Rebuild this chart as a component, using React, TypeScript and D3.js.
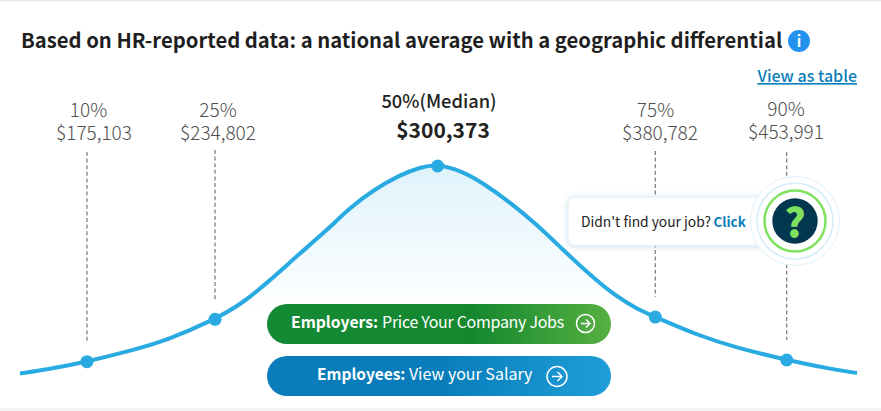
import React from "react";
import * as d3 from "d3";

// percentile labels and salaries
const percentiles = ["10%", "25%", "50%(Median)", "75%", "90%"];
const salaries = ["$175,103", "$234,802", "$300,373", "$380,782", "$453,991"];
// where each percentile sits on the curve (axis position, curve height)
const markerPos = [8, 23.3, 49.9, 75.9, 91.6];
const markerHeight = [5.7, 26.1, 100, 27.2, 6.5];

// bell curve outline
const curvePos = [0, 3.6, 8, 13.5, 17.6, 23.3, 26.6, 29.5, 33.5, 36.7, 39.4, 42.2, 45.4, 47.8, 49.9, 52.9, 55.3, 58.5, 61.8, 64.9, 68.1, 71.3, 73.7, 75.9, 80.9, 85.7, 91.6, 96.8, 100];
const curveHeight = [0, 2.2, 5.7, 11.3, 16.1, 26.1, 33.9, 43.6, 58.1, 69.2, 79.8, 88.4, 95.7, 99.4, 101, 97.4, 91.8, 82.7, 71.6, 59.5, 47.5, 36.9, 31.2, 27.2, 18.5, 12.3, 6.5, 2.2, 0.2];

const width = 881;
const height = 411;
const font = "'Noto Sans CJK SC', 'Noto Sans', sans-serif";

const x = d3.scaleLinear().domain([0, 100]).range([20, 857]);
const y = d3.scaleLinear().domain([0, 100]).range([373.5, 166]);

const curvePoints = curvePos.map((p, i) => [p, curveHeight[i]] as [number, number]);

const line = d3
  .line<[number, number]>()
  .x((d) => x(d[0]))
  .y((d) => y(d[1]))
  .curve(d3.curveBasis);

const area = d3
  .area<[number, number]>()
  .x((d) => x(d[0]))
  .y0(y(0))
  .y1((d) => y(d[1]))
  .curve(d3.curveBasis);

// label placement per percentile
const labelX = [88.5, 218, 439, 655.5, 786];
const salaryX = [94, 218, 443, 660, 786];
const labelY = [116.5, 116.5, 108, 116.5, 115.5];
const salaryY = [139.5, 139.5, 138, 139.5, 138.5];
const dashTop = [152, 150, 0, 151, 152];

function ArrowIcon({ cx, cy, r }: { cx: number; cy: number; r: number }) {
  return (
    <g fill="none" stroke="#fff" strokeWidth={1.5}>
      <circle cx={cx} cy={cy} r={r} />
      <path d={`M${cx - r * 0.5},${cy}H${cx + r * 0.5}M${cx + r * 0.05},${cy - r * 0.45}L${cx + r * 0.5},${cy}L${cx + r * 0.05},${cy + r * 0.45}`} />
    </g>
  );
}

export default function App() {
  return (
    <svg
      width={width}
      height={height}
      style={{ position: "absolute", left: 0, top: 0, background: "#fff" }}
      fontFamily={font}
    >
      <defs>
        <linearGradient id="bell" x1="0" y1="0" x2="0" y2="1">
          <stop offset="0" stopColor="#dff3fb" />
          <stop offset="0.7" stopColor="#ffffff" />
        </linearGradient>
        <linearGradient id="green" x1="0" y1="0" x2="1" y2="0">
          <stop offset="0" stopColor="#148a35" />
          <stop offset="0.6" stopColor="#15882f" />
          <stop offset="1" stopColor="#57b041" />
        </linearGradient>
        <linearGradient id="blue" x1="0" y1="0" x2="1" y2="0">
          <stop offset="0" stopColor="#0a7dba" />
          <stop offset="0.5" stopColor="#087dba" />
          <stop offset="1" stopColor="#1f9ed8" />
        </linearGradient>
        <filter id="soft" x="-10%" y="-30%" width="120%" height="160%">
          <feDropShadow dx="0" dy="1" stdDeviation="3" floodColor="#7fa8c0" floodOpacity="0.35" />
        </filter>
      </defs>

      <rect x={0} y={0} width={width} height={1.5} fill="#e8e8e8" />
      <rect x={0} y={408.5} width={width} height={2.5} fill="#f4f4f4" />

      <text x={21} y={47.5} fontSize={20.25} fontWeight={700} fill="#1f1f1f">
        Based on HR-reported data: a national average with a geographic differential
      </text>
      <circle cx={799} cy={41} r={11} fill="#2391ee" />
      <text x={799} y={47} fontSize={15} fontWeight={700} fill="#fff" textAnchor="middle">
        i
      </text>

      <text x={857} y={82} fontSize={16} fontWeight={500} fill="#0a7dba" textAnchor="end" textDecoration="underline">
        View as table
      </text>

      <path d={area(curvePoints) ?? ""} fill="url(#bell)" />

      {markerPos.map((p, i) =>
        i === 2 ? null : (
          <line
            key={p}
            x1={x(p)}
            x2={x(p)}
            y1={dashTop[i]}
            y2={y(markerHeight[i]) - 20}
            stroke="#777"
            strokeWidth={1.2}
            strokeDasharray="4 2.6"
          />
        )
      )}

      <path d={line(curvePoints) ?? ""} fill="none" stroke="#29abe2" strokeWidth={4} />
      {markerPos.map((p, i) => (
        <circle key={p} cx={x(p)} cy={y(markerHeight[i])} r={6.5} fill="#29abe2" />
      ))}

      {percentiles.map((label, i) => (
        <g key={label} textAnchor="middle">
          <text
            x={labelX[i]}
            y={labelY[i]}
            fontSize={i === 2 ? 18.3 : 19}
            fontWeight={i === 2 ? 500 : 300}
            fill={i === 2 ? "#222" : "#4f4f4f"}
          >
            {label}
          </text>
          <text
            x={salaryX[i]}
            y={salaryY[i]}
            fontSize={i === 2 ? 21 : 19}
            fontWeight={i === 2 ? 700 : 300}
            fill={i === 2 ? "#222" : "#4f4f4f"}
          >
            {salaries[i]}
          </text>
        </g>
      ))}

      <rect x={568} y={197} width={210} height={48.5} rx={7} fill="#fff" stroke="#e4f3fb" strokeWidth={1.5} filter="url(#soft)" />
      <text x={581} y={226.5} fontSize={13.8} fontWeight={400} fill="#222">
        Didn't find your job?
      </text>
      <text x={713.5} y={226.5} fontSize={13.4} fontWeight={700} fill="#0a7dba">
        Click
      </text>
      <circle cx={795} cy={221} r={44.5} fill="#fff" stroke="#dff1fb" strokeWidth={1} />
      <circle cx={795} cy={221} r={38} fill="#fff" stroke="#d5edfa" strokeWidth={1.5} />
      <circle cx={795} cy={221} r={30.5} fill="#fff" stroke="#7fe25e" strokeWidth={2.5} />
      <circle cx={795} cy={221} r={22.7} fill="#03364f" />
      <text x={795} y={237} fontSize={40} fontWeight={900} fill="#7fe25e" textAnchor="middle">
        ?
      </text>

      <rect x={267} y={304} width={344} height={40} rx={20} fill="url(#green)" />
      <text x={291} y={328} fill="#fff">
        <tspan fontSize={15.7} fontWeight={700}>Employers:</tspan>
        <tspan dx={4} fontSize={16} letterSpacing={-0.3}>Price Your Company Jobs</tspan>
      </text>
      <ArrowIcon cx={585.5} cy={323.5} r={9} />

      <rect x={267} y={356} width={344} height={40} rx={20} fill="url(#blue)" />
      <text x={317} y={380} fill="#fff">
        <tspan fontSize={15.5} fontWeight={700}>Employees:</tspan>
        <tspan dx={3.5} fontSize={16}>View your Salary</tspan>
      </text>
      <ArrowIcon cx={557} cy={376.5} r={10} />
    </svg>
  );
}
